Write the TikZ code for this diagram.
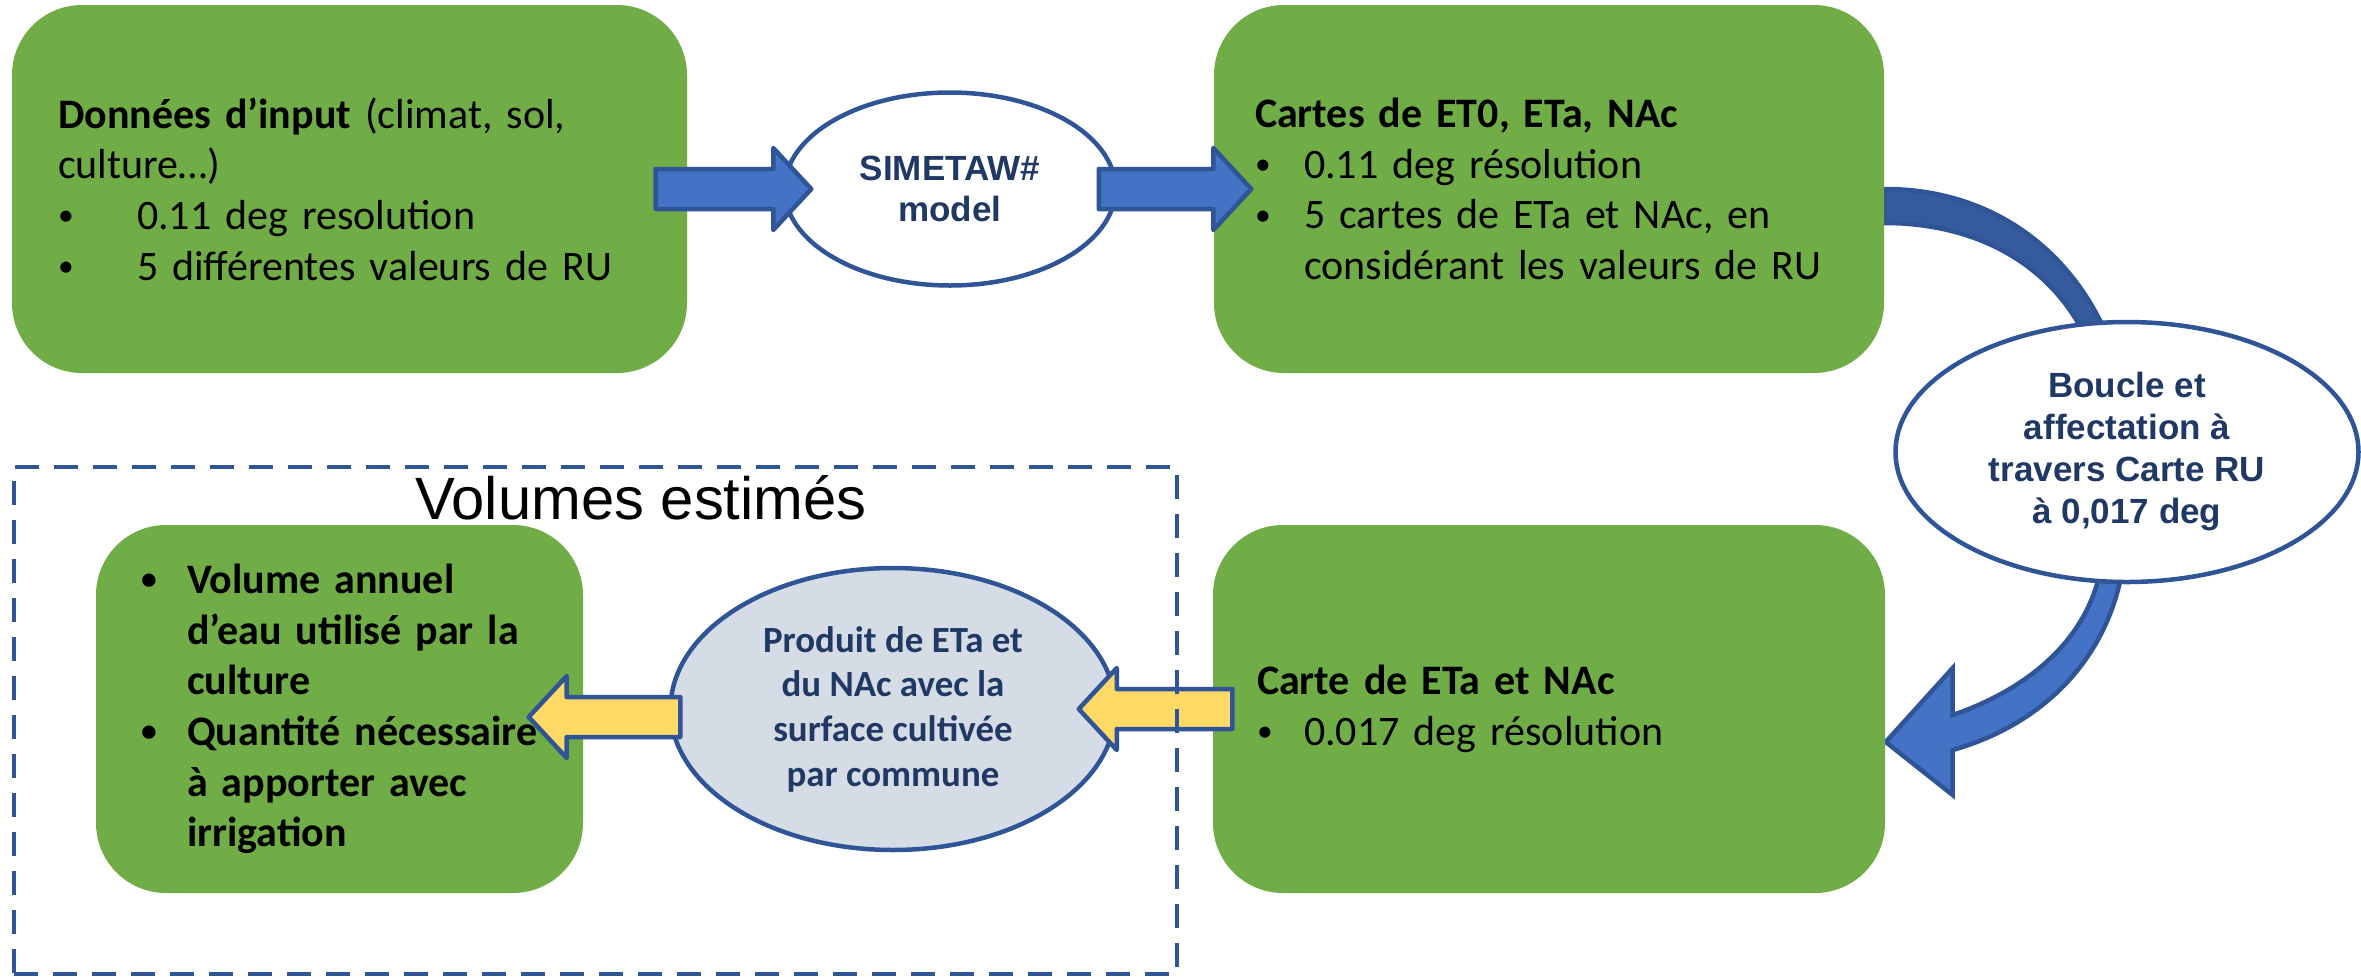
\documentclass[tikz,border=0pt]{standalone}
\usepackage{fontspec}
\setmainfont{Carlito}
\newfontfamily\arialfont{Liberation Sans}
\usetikzlibrary{shapes.geometric,calc,backgrounds}
\definecolor{boxgreen}{HTML}{70AD47}
\definecolor{arrowblue}{HTML}{4472C4}
\definecolor{lineblue}{HTML}{2F5597}
\definecolor{textblue}{HTML}{203864}
\definecolor{bubblegrey}{HTML}{D6DCE5}
\definecolor{arrowyellow}{HTML}{FFD966}
\newcommand\puce[1]{\makebox[#1][l]{\raisebox{1.1pt}{\scalebox{0.75}{•}}}}
% Blockpfeil von #2 nach #3
\newcommand\flatarrow[3]{%
  \coordinate (fa-base) at ($(#3)!3.8mm!(#2)$);
  \draw[#1] ($(#2)!2mm!90:(#3)$) -- ($(fa-base)!2mm!-90:(#2)$)
    -- ($(fa-base)!4.1mm!-90:(#2)$) -- (#3) -- ($(fa-base)!4.1mm!90:(#2)$)
    -- ($(fa-base)!2mm!90:(#2)$) -- ($(#2)!2mm!-90:(#3)$) -- cycle;}
\begin{document}
\begin{tikzpicture}[x=0.1mm, y=-0.1mm, line join=round,
    greenbox/.style={fill=boxgreen, rounded corners=7mm, minimum height=36.8mm,
      inner ysep=0pt, align=left, font=\fontsize{11.95pt}{14.4pt}\selectfont},
    bubble/.style={ellipse, draw=lineblue, line width=0.45mm, fill=white, inner sep=0pt,
      align=center, text=textblue, font=\arialfont\bfseries\fontsize{9.96pt}{11.8pt}\selectfont},
    bluearrow/.style={fill=arrowblue, draw=lineblue, line width=0.45mm},
    yellowarrow/.style={fill=arrowyellow, draw=lineblue, line width=0.45mm}]
  \useasboundingbox (0,0) rectangle (2361,977);
  % Kästen
  \node[greenbox, text width=58.3mm, inner xsep=4.6mm] (input) at (349.5,189)
    {\textbf{Données d’input} (climat, sol,\\ culture…)\\
     \puce{7.9mm}0.11 deg resolution\\ \puce{7.9mm}5 différentes valeurs de RU};
  \node[greenbox, text width=58.8mm, inner xsep=4.1mm] (cartes) at (1549,189)
    {\textbf{Cartes de ET0, ETa, NAc}\\ \puce{4.9mm}0.11 deg résolution\\
     \puce{4.9mm}5 cartes de ETa et NAc, en\\ \hspace*{4.9mm}considérant les valeurs de RU};
  \node[greenbox, text width=58.4mm, inner xsep=4.4mm] (carte) at (1549,709)
    {\textbf{Carte de ETa et NAc}\\ \puce{4.7mm}0.017 deg résolution};
  \node[greenbox, text width=39.7mm, inner xsep=4.5mm, font=\bfseries\fontsize{11.95pt}{14.4pt}\selectfont]
    (volumes) at (339.5,709)
    {\puce{4.6mm}Volume annuel\\ \hspace*{4.6mm}d’eau utilisé par la\\ \hspace*{4.6mm}culture\\
     \puce{4.6mm}\mbox{Quantité nécessaire}\\ \hspace*{4.6mm}à apporter avec\\ \hspace*{4.6mm}irrigation};
  % Ellipsen
  \node[bubble, minimum width=33.1mm, minimum height=19.3mm] (model) at (950,189)
    {SIMETAW\#\\model};
  \node[bubble, minimum width=46.3mm, minimum height=26mm,
    font=\arialfont\bfseries\fontsize{9.96pt}{11.95pt}\selectfont] (boucle) at (2127,452)
    {Boucle et\\affectation à\\travers Carte RU\\à 0,017 deg};
  \node[bubble, fill=bubblegrey, minimum width=44.5mm, minimum height=28.2mm,
    font=\bfseries\fontsize{10.5pt}{12.7pt}\selectfont] (produit) at (893,709)
    {Produit de ETa et\\du NAc avec la\\surface cultivée\\par commune};
  % gebogener Pfeil hinter der Ellipse
  \begin{scope}[on background layer]
    \fill[arrowblue!80!black, draw=lineblue, line width=0.45mm]
      (cartes.east) .. controls +(105,0) and +(-38,-90) .. ($(boucle.north)+(-19,18)$)
      -- ($(boucle.north)+(-41,18)$) .. controls +(-36,-75) and +(90,0) .. ($(cartes.east)+(0,34)$)
      -- cycle;
    \coordinate (pointe) at ($(carte.east)+(0,33)$);
    \fill[bluearrow]
      ($(boucle.south)+(-5,-12)$) .. controls +(-17,90) and +(88,-25) .. ($(pointe)+(67,8)$)
      -- ($(pointe)+(67,53)$) -- (pointe) -- ($(pointe)+(67,-74)$) -- ($(pointe)+(67,-27)$)
      .. controls +(73,-25) and +(-15,70) .. ($(boucle.south)+(-27,-12)$) -- cycle;
  \end{scope}
  % gerade Pfeile
  \coordinate (a1s) at ($(input.east)+(-32,0)$);
  \coordinate (a1t) at ($(model.west)+(29,0)$);
  \flatarrow{bluearrow}{a1s}{a1t}
  \coordinate (a2s) at ($(model.east)+(-19,0)$);
  \coordinate (a2t) at ($(cartes.west)+(38,0)$);
  \flatarrow{bluearrow}{a2s}{a2t}
  \coordinate (a3s) at ($(carte.west)+(20,0)$);
  \coordinate (a3t) at ($(produit.east)+(-39,0)$);
  \flatarrow{yellowarrow}{a3s}{a3t}
  \coordinate (a4s) at ($(produit.west)+(12,8)$);
  \coordinate (a4t) at ($(volumes.east)+(-55,8)$);
  \flatarrow{yellowarrow}{a4s}{a4t}
  % Rahmen mit Titel
  \node[draw=lineblue, line width=0.45mm, dash pattern=on 2.4mm off 1.5mm, inner sep=0pt,
    minimum width=116.3mm, minimum height=50.7mm] (zone) at (595.5,720.5) {};
  \node[anchor=base, font=\arialfont\fontsize{17pt}{20pt}\selectfont] (titre) at (641,519)
    {Volumes estimés};
\end{tikzpicture}
\end{document}
